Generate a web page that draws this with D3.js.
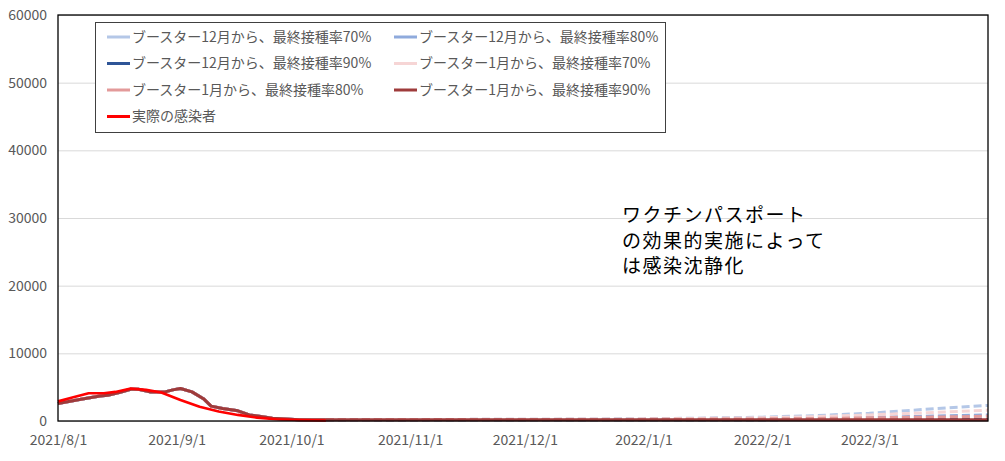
<!DOCTYPE html>
<html>
<head>
<meta charset="utf-8">
<script src="https://cdn.jsdelivr.net/npm/d3@7"></script>
<style>
body{margin:0;background:#fff;}
text{font-family:"Noto Sans CJK JP","Noto Sans",sans-serif;}
</style>
</head>
<body>
<svg></svg>
<script>
// actual infections (date, value)
var actualDates = ["2021-08-01","2021-08-05","2021-08-09","2021-08-13","2021-08-16","2021-08-20","2021-08-24","2021-08-28","2021-09-02","2021-09-07","2021-09-12","2021-09-17","2021-09-22","2021-09-27","2021-10-03","2021-10-10"]
var actualValues = [2900,3500,4100,4100,4300,4800,4600,4200,3100,2100,1400,900,500,250,150,80]

// shared history of the scenario runs
var histDates = ["2021-08-01","2021-08-07","2021-08-12","2021-08-14","2021-08-17","2021-08-20","2021-08-22","2021-08-25","2021-08-29","2021-08-31","2021-09-02","2021-09-05","2021-09-08","2021-09-10","2021-09-13","2021-09-17","2021-09-20","2021-09-23","2021-09-26","2021-10-03","2021-10-10"]
var histValues = [2600,3200,3700,3800,4200,4700,4700,4300,4300,4600,4800,4300,3300,2200,1850,1500,900,650,400,200,180]

// projections
var projDates = ["2021-10-10","2021-11-01","2021-12-01","2022-01-01","2022-01-15","2022-02-01","2022-02-15","2022-03-01","2022-03-15","2022-04-01"]
var dec70 = [180,220,260,330,420,560,800,1150,1700,2300]
var dec80 = [180,200,220,250,280,330,420,550,700,900]
var dec90 = [180,180,190,190,200,200,210,220,230,250]
var jan70 = [180,220,260,320,380,480,650,900,1200,1600]
var jan80 = [180,200,220,240,270,310,380,470,560,700]
var jan90 = [180,180,180,180,180,190,190,190,200,200]

var seriesNames = ["ブースター12月から、最終接種率70%","ブースター12月から、最終接種率80%","ブースター12月から、最終接種率90%","ブースター1月から、最終接種率70%","ブースター1月から、最終接種率80%","ブースター1月から、最終接種率90%","実際の感染者"]
var seriesColors = ["#B4C7E7","#8FAADC","#2F5597","#F6D5D5","#E39A9A","#9E3B3B","#FF0000"]
var projections = [dec70,dec80,dec90,jan70,jan80,jan90]

var yTicks = [0,10000,20000,30000,40000,50000,60000]
var xTicks = ["2021-08-01","2021-09-01","2021-10-01","2021-11-01","2021-12-01","2022-01-01","2022-02-01","2022-03-01"]
var noteLines = ["ワクチンパスポート","の効果的実施によって","は感染沈静化"]

var screen = {width:1005, height:461}
var plot = {left:58, right:988, top:15, bottom:421}

var parse = d3.timeParse("%Y-%m-%d")

var svg = d3.select("svg")
    .attr("width", screen.width)
    .attr("height", screen.height)

var xScale = d3.scaleTime()
    .domain([parse("2021-08-01"), parse("2022-04-01")])
    .range([plot.left, plot.right])

var yScale = d3.scaleLinear()
    .domain([0,60000])
    .range([plot.bottom, plot.top])

// gridlines
svg.append("g")
    .attr("transform","translate("+plot.left+",0)")
    .call(d3.axisLeft(yScale).tickValues(yTicks).tickSize(-(plot.right-plot.left)).tickFormat(""))
    .call(function(g){
        g.select(".domain").remove()
        g.selectAll("line").attr("stroke","#D9D9D9").attr("stroke-width",1)
    })

// y labels
svg.append("g")
    .attr("transform","translate("+plot.left+",0)")
    .call(d3.axisLeft(yScale).tickValues(yTicks).tickSize(0).tickPadding(11).tickFormat(d3.format("d")))
    .call(function(g){
        g.select(".domain").remove()
        g.selectAll("text").attr("fill","#595959").style("font-size","14px")
    })

// x labels
svg.append("g")
    .attr("transform","translate(0,"+plot.bottom+")")
    .call(d3.axisBottom(xScale).tickValues(xTicks.map(parse)).tickSize(0).tickPadding(14).tickFormat(d3.timeFormat("%Y/%-m/%-d")))
    .call(function(g){
        g.select(".domain").remove()
        g.selectAll("text").attr("fill","#595959").style("font-size","14px")
    })

var line = d3.line()
    .x(function(d){ return xScale(d.date) })
    .y(function(d){ return yScale(d.value) })

var zip = function(dates, values){
    return dates.map(function(d,i){ return {date:parse(d), value:values[i]} })
}

var lines = svg.append("g").attr("fill","none").attr("stroke-linejoin","round")

projections.forEach(function(proj,i){
    lines.append("path")
        .attr("d", line(zip(histDates, histValues)))
        .attr("stroke", seriesColors[i])
        .attr("stroke-width", 3)
    lines.append("path")
        .attr("d", line(zip(projDates, proj)))
        .attr("stroke", seriesColors[i])
        .attr("stroke-width", 3)
        .attr("stroke-dasharray", i==5 ? null : "8,4")
})

lines.append("path")
    .attr("d", line(zip(actualDates, actualValues)))
    .attr("stroke", seriesColors[6])
    .attr("stroke-width", 2.6)

// plot border
svg.append("rect")
    .attr("x", plot.left).attr("y", plot.top)
    .attr("width", plot.right-plot.left).attr("height", plot.bottom-plot.top)
    .attr("fill","none").attr("stroke","#000").attr("stroke-width",1.3)

// legend
var legend = svg.append("g")
legend.append("rect")
    .attr("x",95.5).attr("y",22.5).attr("width",570).attr("height",110)
    .attr("fill","#fff").attr("stroke","#404040").attr("stroke-width",1)

seriesNames.forEach(function(name,i){
    var col = i<6 ? i%2 : 0
    var row = Math.floor(i/2)
    var lx = 107 + col*287
    var ly = 37 + row*26.5
    legend.append("line")
        .attr("x1",lx).attr("x2",lx+23).attr("y1",ly).attr("y2",ly)
        .attr("stroke",seriesColors[i]).attr("stroke-width",3)
    legend.append("text")
        .attr("x",lx+25).attr("y",ly)
        .attr("dy","0.35em")
        .attr("fill","#595959")
        .style("font-size","14px")
        .text(name)
})

// annotation
svg.append("g").selectAll("text")
    .data(noteLines)
    .enter()
    .append("text")
    .attr("x",622)
    .attr("y",function(d,i){ return 222 + i*25.5 })
    .attr("fill","#000")
    .style("font-size","19px")
    .style("letter-spacing","1.5px")
    .text(function(d){ return d })
</script>
</body>
</html>
